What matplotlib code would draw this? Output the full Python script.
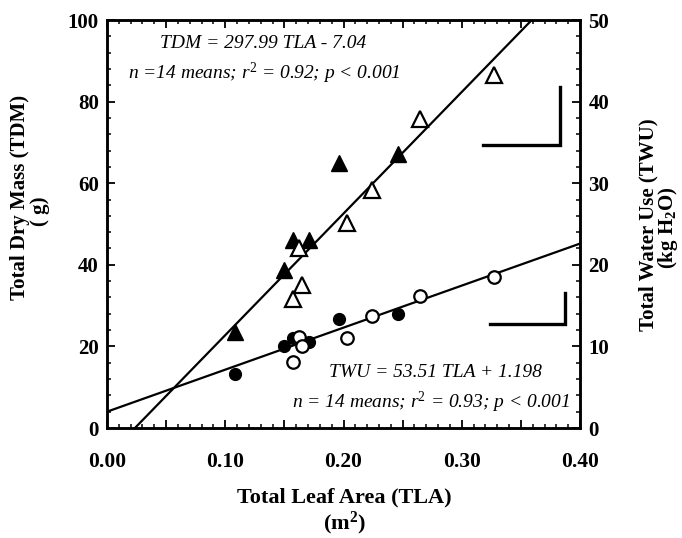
import matplotlib
matplotlib.use("Agg")
import matplotlib.pyplot as plt
from matplotlib.ticker import MultipleLocator, FuncFormatter
import numpy as np

# ---- data ----
tla_filled = [0.108, 0.150, 0.157, 0.171, 0.196, 0.246]
tdm_filled = [23.6, 38.7, 46.0, 46.0, 65.0, 67.2]
twu_filled = [6.6, 10.0, 11.0, 10.6, 13.4, 14.0]

tla_open = [0.157, 0.162, 0.165, 0.203, 0.224, 0.265, 0.327]
tdm_open = [31.5, 44.0, 35.0, 50.2, 58.3, 75.7, 86.5]
twu_open = [8.1, 11.2, 10.0, 11.0, 13.7, 16.2, 18.5]

# fitted lines (as drawn)
tdm_slope, tdm_intercept = 297.99, -7.04
twu_line_x = [0.0, 0.40]
twu_line_y = [2.0, 22.6]

# scale bars: horizontal x-range, y level, vertical top
bar_tdm_x = [0.318, 0.383]
bar_tdm_y = [69.4, 83.6]
bar_twu_x = [0.324, 0.387]
bar_twu_y = [12.75, 16.6]

x_ticklabels = ["0.00", "0.10", "0.20", "0.30", "0.40"]

serif = ["Liberation Serif", "DejaVu Serif"]
plt.rcParams["font.family"] = serif
plt.rcParams["mathtext.fontset"] = "custom"
plt.rcParams["mathtext.rm"] = "Liberation Serif"
plt.rcParams["mathtext.it"] = "Liberation Serif:italic"
plt.rcParams["mathtext.bf"] = "Liberation Serif:bold"

W, H = 682, 538
fig = plt.figure(figsize=(W/100, H/100), dpi=100)
ax = fig.add_axes([107/W, 1-428/H, (580-107)/W, (428-20)/H])
ax2 = ax.twinx()

ax.set_xlim(0, 0.40)
ax.set_ylim(0, 100)
ax2.set_ylim(0, 50)

# TDM regression line
xs = np.array([0.0, 0.40])
ax.plot(xs, tdm_slope*xs + tdm_intercept, color="black", lw=1.6, zorder=2)
# TWU regression line
ax2.plot(twu_line_x, twu_line_y, color="black", lw=1.6, zorder=2)

# triangles (TDM)
ax.plot(tla_filled, tdm_filled, linestyle="none", marker="^", ms=11,
        mfc="black", mec="black", zorder=3)
ax.plot(tla_open, tdm_open, linestyle="none", marker="^", ms=11,
        mfc="white", mec="black", mew=1.6, zorder=3)
# circles (TWU)
ax2.plot(tla_filled, twu_filled, linestyle="none", marker="o", ms=8.5,
         mfc="black", mec="black", zorder=3)
ax2.plot(tla_open, twu_open, linestyle="none", marker="o", ms=9,
         mfc="white", mec="black", mew=1.6, zorder=4)

# scale bars
ax.plot([bar_tdm_x[0], bar_tdm_x[1], bar_tdm_x[1]],
        [bar_tdm_y[0], bar_tdm_y[0], bar_tdm_y[1]], color="black", lw=2.4,
        solid_joinstyle="miter")
ax2.plot([bar_twu_x[0], bar_twu_x[1], bar_twu_x[1]],
         [bar_twu_y[0], bar_twu_y[0], bar_twu_y[1]], color="black", lw=2.4,
         solid_joinstyle="miter")

# ticks
ax.xaxis.set_major_locator(MultipleLocator(0.05))
ax.xaxis.set_minor_locator(MultipleLocator(0.01))
ax.xaxis.set_major_formatter(FuncFormatter(
    lambda v, p: x_ticklabels[int(round(v/0.1))] if abs(v/0.1 - round(v/0.1)) < 1e-6 else ""))
ax.yaxis.set_major_locator(MultipleLocator(20))
ax.yaxis.set_minor_locator(MultipleLocator(4))
ax2.yaxis.set_major_locator(MultipleLocator(10))
ax2.yaxis.set_minor_locator(MultipleLocator(2))

for a in (ax, ax2):
    a.tick_params(which="major", direction="in", length=6, width=1.3,
                  labelsize=15, pad=6)
    a.tick_params(which="minor", direction="in", length=3, width=1.1)
    for s in a.spines.values():
        s.set_linewidth(1.8)
ax.tick_params(axis="x", top=True, which="both")
ax.tick_params(axis="x", which="major", pad=17, labelsize=15.5)
ax.tick_params(axis="y", right=False, which="both")
for lab in ax.get_xticklabels() + ax.get_yticklabels() + ax2.get_yticklabels():
    lab.set_fontweight("bold")

# axis titles
fig.text(344/W, 1-497/H, "Total Leaf Area (TLA)", fontsize=16, fontweight="bold",
         ha="center", va="center")
fig.text(344/W, 1-523/H, "(m$\\mathbf{^2}$)", fontsize=16, fontweight="bold",
         ha="center", va="center")
fig.text(20/W, 1-197/H, "Total Dry Mass (TDM)", fontsize=15, fontweight="bold",
         rotation=90, ha="center", va="center")
fig.text(40/W, 1-211/H, "( g)", fontsize=15, fontweight="bold",
         rotation=90, ha="center", va="center")
fig.text(648/W, 1-225/H, "Total Water Use (TWU)", fontsize=15, fontweight="bold",
         rotation=90, ha="center", va="center")
fig.text(668/W, 1-228/H, "(kg H$\\mathbf{_2}$O)", fontsize=15, fontweight="bold",
         rotation=90, ha="center", va="center")

# annotations
ax.text(0.132, 94.3, "TDM = 297.99 TLA - 7.04", fontsize=14, style="italic",
        ha="center", va="center")
ax.text(0.133, 86.9, "n =14 means; r$^2$ = 0.92; p < 0.001", fontsize=14,
        style="italic", ha="center", va="center")
ax.text(0.278, 13.5, "TWU = 53.51 TLA + 1.198", fontsize=14, style="italic",
        ha="center", va="center")
ax.text(0.274, 6.3, "n = 14 means; r$^2$ = 0.93; p < 0.001", fontsize=14,
        style="italic", ha="center", va="center")

fig.savefig("out.png", dpi=100)
